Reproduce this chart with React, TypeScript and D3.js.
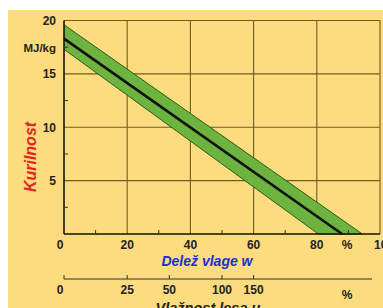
import React from 'react';
import * as d3 from 'd3';

// moisture share w (%) vs heating value (MJ/kg)
const centerLine: [number, number][] = [[0, 18.3], [88, 0]];
const bandUpper: [number, number][] = [[0, 19.6], [94.4, 0]];
const bandLower: [number, number][] = [[0, 17.3], [80.5, 0]];

const yTicks = [5, 10, 15, 20];
const yMinor = [2.5, 7.5, 12.5, 17.5];
const xTicks = [0, 20, 40, 60, 80, 100];
const xMinor = [10, 30, 50, 70, 90];
const uTicks = [0, 25, 50, 100, 150];

const W = 383;
const H = 308;

export default function App() {
  const x = d3.scaleLinear().domain([0, 100]).range([64, 380]);
  const y = d3.scaleLinear().domain([0, 20]).range([234, 20.5]);
  const uToW = (u: number) => (u / (100 + u)) * 100;

  const line = d3.line<[number, number]>().x(d => x(d[0])).y(d => y(d[1]));
  const band = [...bandUpper, ...bandLower.slice().reverse()];

  const grid = '#6f5d24';
  const font = 'Liberation Sans, Arial, sans-serif';

  return (
    <div style={{ position: 'absolute', left: 0, top: 0 }}>
      <svg width={W} height={H} style={{ display: 'block' }}>
        <rect x={0} y={0} width={W} height={H} fill="#fff" />
        <rect x={8} y={10} width={W - 8} height={H - 10} fill="#fcdc7e" />

        {/* grid */}
        {yTicks.map(t => (
          <line key={'gy' + t} x1={x(0)} x2={x(100)} y1={y(t)} y2={y(t)} stroke={grid} strokeWidth={1.1} />
        ))}
        {xTicks.slice(1).map(t => (
          <line key={'gx' + t} x1={x(t)} x2={x(t)} y1={y(0)} y2={y(20)} stroke={grid} strokeWidth={1.1} />
        ))}

        {/* band */}
        <path d={line(band) || ''} fill="#6db33f" stroke="#2f5a18" strokeWidth={1} />
        <path d={line(centerLine) || ''} fill="none" stroke="#101010" strokeWidth={2.6} />

        {/* axes */}
        <line x1={x(0)} x2={x(0)} y1={y(20)} y2={y(0)} stroke="#111" strokeWidth={1.6} />
        <line x1={x(0)} x2={x(100)} y1={y(0)} y2={y(0)} stroke="#111" strokeWidth={1.6} />
        {xMinor.map(t => (
          <line key={'mx' + t} x1={x(t)} x2={x(t)} y1={y(0)} y2={y(0) - 4} stroke="#333" />
        ))}
        {yMinor.map(t => (
          <line key={'my' + t} x1={x(0)} x2={x(0) + 4} y1={y(t)} y2={y(t)} stroke="#333" />
        ))}

        {/* y labels */}
        <g fontFamily={font} fontWeight="bold" fontSize={12} fill="#222" textAnchor="end">
          {yTicks.map(t => (
            <text key={'ly' + t} x={56} y={y(t) + 4.5}>{t}</text>
          ))}
          <text x={56} y={52} fontSize={11.5}>MJ/kg</text>
        </g>
        <text
          transform="translate(36,157) rotate(-90)"
          textAnchor="middle"
          fontFamily={font}
          fontWeight="bold"
          fontStyle="italic"
          fontSize={16}
          fill="#e3261c"
        >
          Kurilnost
        </text>

        {/* x labels */}
        <g fontFamily={font} fontWeight="bold" fontSize={12} fill="#222" textAnchor="middle">
          {xTicks.map(t => (
            <text key={'lx' + t} x={t === 0 ? x(0) - 4 : t === 100 ? x(100) + 4 : x(t)} y={249}>{t}</text>
          ))}
          <text x={347} y={249}>%</text>
        </g>
        <text x={207} y={266} textAnchor="middle" fontFamily={font} fontWeight="bold" fontStyle="italic" fontSize={14} fill="#1c2ed4">
          Delež vlage w
        </text>

        {/* secondary axis: wood moisture u */}
        <line x1={x(0)} x2={372} y1={279} y2={279} stroke="#333" strokeWidth={1} />
        {uTicks.map(u => (
          <line key={'tu' + u} x1={x(uToW(u))} x2={x(uToW(u))} y1={279} y2={275} stroke="#333" />
        ))}
        <g fontFamily={font} fontWeight="bold" fontSize={12} fill="#222" textAnchor="middle">
          {uTicks.map(u => (
            <text key={'lu' + u} x={u === 0 ? x(0) - 4 : x(uToW(u))} y={294}>{u}</text>
          ))}
          <text x={347} y={299}>%</text>
        </g>
        <text x={208} y={313} textAnchor="middle" fontFamily={font} fontWeight="bold" fontStyle="italic" fontSize={14.5} fill="#222">
          Vlažnost lesa u
        </text>
      </svg>
    </div>
  );
}
